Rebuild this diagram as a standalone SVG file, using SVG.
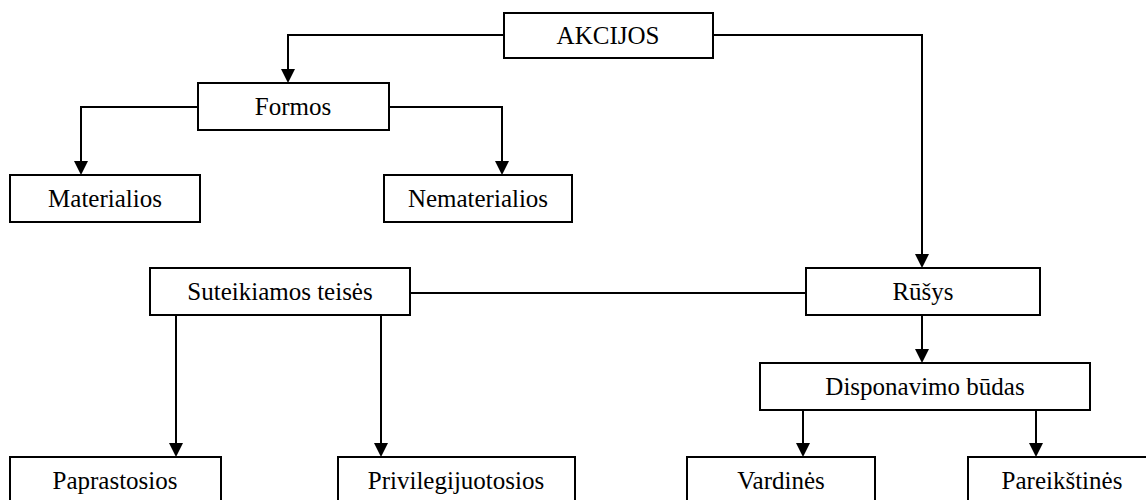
<svg xmlns="http://www.w3.org/2000/svg" width="1146" height="500" viewBox="0 0 1146 500">
  <style>
    .box { fill: #ffffff; stroke: #000000; stroke-width: 2; }
    .lbl { font-family: "Liberation Serif", "Times New Roman", serif; font-size: 25px; fill: #000000; text-anchor: middle; }
    .wire { fill: none; stroke: #000000; stroke-width: 2; }
  </style>
  <defs>
    <!-- downward arrowhead, tip at (0,0) -->
    <path id="head" d="M-7,-14 H7 L0,0 Z" fill="#000000"/>
  </defs>
  <rect width="1146" height="500" fill="#ffffff"/>

  <g id="connectors">
    <path class="wire" d="M504,35 H288 V75"/>
    <path class="wire" d="M713,35 H922 V260"/>
    <path class="wire" d="M198,107 H81 V167"/>
    <path class="wire" d="M389,107 H502 V167"/>
    <path class="wire" d="M410,293 H806"/>
    <path class="wire" d="M176,315 V449"/>
    <path class="wire" d="M381,315 V449"/>
    <path class="wire" d="M922,315 V355"/>
    <path class="wire" d="M803,410 V449"/>
    <path class="wire" d="M1036,410 V449"/>
    <use href="#head" x="288" y="83"/>
    <use href="#head" x="922" y="268"/>
    <use href="#head" x="81" y="175"/>
    <use href="#head" x="502" y="175"/>
    <use href="#head" x="176" y="457"/>
    <use href="#head" x="381" y="457"/>
    <use href="#head" x="922" y="363"/>
    <use href="#head" x="803" y="457"/>
    <use href="#head" x="1036" y="457"/>
  </g>

  <g id="akcijos">
    <rect class="box" x="504" y="13" width="209" height="45"/>
    <text class="lbl" x="608" y="44">AKCIJOS</text>
  </g>
  <g id="formos">
    <rect class="box" x="198" y="83" width="191" height="47"/>
    <text class="lbl" x="293" y="115">Formos</text>
  </g>
  <g id="materialios">
    <rect class="box" x="10" y="175" width="190" height="47"/>
    <text class="lbl" x="105" y="207">Materialios</text>
  </g>
  <g id="nematerialios">
    <rect class="box" x="384" y="175" width="188" height="47"/>
    <text class="lbl" x="478" y="207">Nematerialios</text>
  </g>
  <g id="suteikiamos-teises">
    <rect class="box" x="150" y="268" width="260" height="47"/>
    <text class="lbl" x="280" y="300">Suteikiamos teisės</text>
  </g>
  <g id="rusys">
    <rect class="box" x="806" y="268" width="234" height="47"/>
    <text class="lbl" x="923" y="300">Rūšys</text>
  </g>
  <g id="disponavimo-budas">
    <rect class="box" x="760" y="363" width="330" height="47"/>
    <text class="lbl" x="925" y="395">Disponavimo būdas</text>
  </g>
  <g id="paprastosios">
    <rect class="box" x="10" y="457" width="211" height="60"/>
    <text class="lbl" x="115" y="489">Paprastosios</text>
  </g>
  <g id="privilegijuotosios">
    <rect class="box" x="338" y="457" width="237" height="60"/>
    <text class="lbl" x="456" y="489">Privilegijuotosios</text>
  </g>
  <g id="vardines">
    <rect class="box" x="687" y="457" width="188" height="60"/>
    <text class="lbl" x="781" y="489">Vardinės</text>
  </g>
  <g id="pareikstines">
    <rect class="box" x="968" y="457" width="190" height="60"/>
    <text class="lbl" x="1062" y="489">Pareikštinės</text>
  </g>
</svg>
